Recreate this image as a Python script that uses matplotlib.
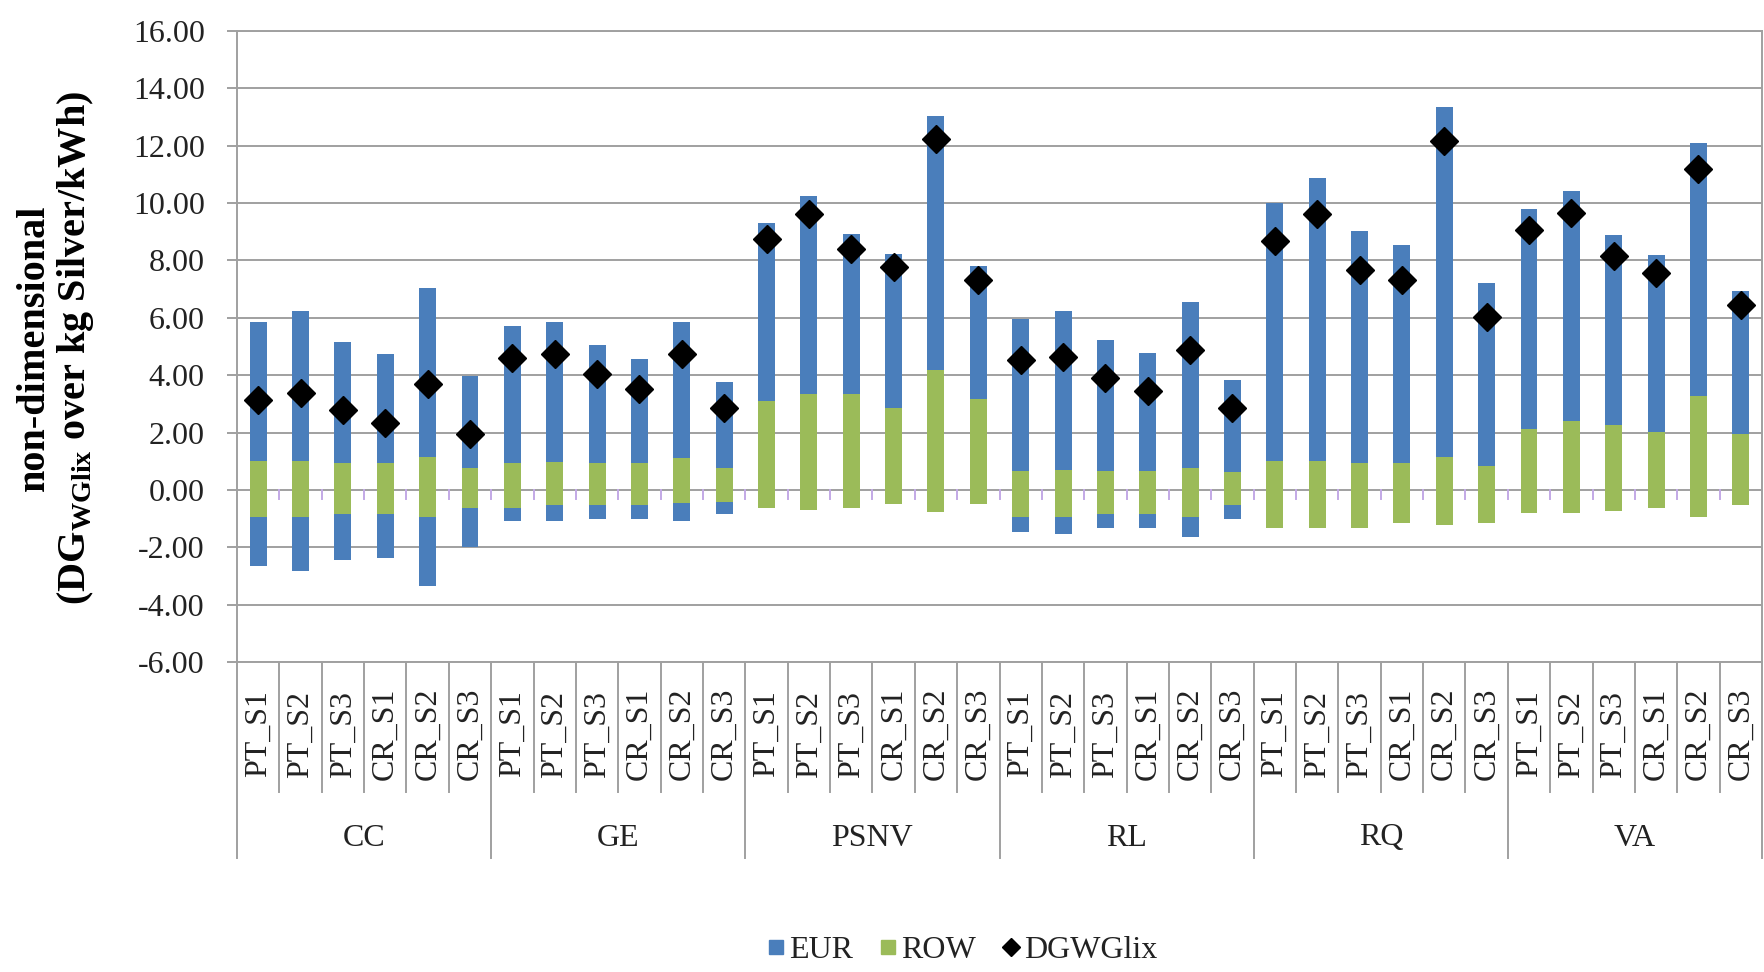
import matplotlib
matplotlib.use("Agg")
import matplotlib.pyplot as plt
from matplotlib.lines import Line2D
import numpy as np

plt.rcParams["font.family"] = ["Liberation Serif", "DejaVu Serif"]
plt.rcParams["mathtext.fontset"] = "custom"
plt.rcParams["mathtext.rm"] = "Liberation Serif"
plt.rcParams["mathtext.bf"] = "Liberation Serif:bold"

# ---- data -------------------------------------------------------------
sites = ["CC", "GE", "PSNV", "RL", "RQ", "VA"]
scenarios = ["PT_S1", "PT_S2", "PT_S3", "CR_S1", "CR_S2", "CR_S3"]

# ROW contribution above zero
row_pos = [1.01, 1.01, 0.93, 0.93, 1.13, 0.78,
           0.93, 0.96, 0.93, 0.93, 1.12, 0.78,
           3.10, 3.33, 3.33, 2.87, 4.19, 3.18,
           0.67, 0.70, 0.67, 0.67, 0.78, 0.62,
           1.01, 1.01, 0.93, 0.93, 1.16, 0.85,
           2.14, 2.40, 2.25, 2.02, 3.26, 1.94]
# EUR contribution above zero (stacked on ROW)
eur_pos = [4.85, 5.24, 4.23, 3.80, 5.92, 3.20,
           4.78, 4.90, 4.11, 3.64, 4.74, 2.97,
           6.20, 6.90, 5.58, 5.35, 8.86, 4.62,
           5.30, 5.55, 4.57, 4.11, 5.76, 3.22,
           8.99, 9.87, 8.11, 7.60, 12.20, 6.36,
           7.66, 8.02, 6.63, 6.17, 8.83, 5.01]
# ROW contribution below zero
row_neg = [-0.93, -0.96, -0.85, -0.85, -0.96, -0.62,
           -0.62, -0.54, -0.54, -0.54, -0.47, -0.43,
           -0.62, -0.70, -0.62, -0.50, -0.78, -0.50,
           -0.93, -0.96, -0.85, -0.85, -0.93, -0.54,
           -1.32, -1.32, -1.32, -1.16, -1.24, -1.16,
           -0.81, -0.81, -0.73, -0.62, -0.93, -0.54]
# EUR contribution below zero (stacked under ROW)
eur_neg = [-1.74, -1.88, -1.60, -1.51, -2.40, -1.36,
           -0.47, -0.55, -0.47, -0.47, -0.62, -0.42,
           0.0, 0.0, 0.0, 0.0, 0.0, 0.0,
           -0.54, -0.59, -0.47, -0.47, -0.70, -0.47,
           0.0, 0.0, 0.0, 0.0, 0.0, 0.0,
           0.0, 0.0, 0.0, 0.0, 0.0, 0.0]
# net indicator
dgwglix = [3.15, 3.38, 2.79, 2.33, 3.69, 1.94,
           4.60, 4.73, 4.03, 3.52, 4.73, 2.84,
           8.76, 9.61, 8.40, 7.78, 12.25, 7.33,
           4.53, 4.65, 3.91, 3.44, 4.88, 2.84,
           8.68, 9.61, 7.67, 7.32, 12.17, 6.02,
           9.07, 9.64, 8.14, 7.57, 11.19, 6.43]

yticks = [-6, -4, -2, 0, 2, 4, 6, 8, 10, 12, 14, 16]

# ---- styling ----------------------------------------------------------
C_EUR = "#4A7EBB"
C_ROW = "#9BBB59"
C_GRID = "#A0A0A0"
C_TXT = "#222222"
FS = 23

W, H = 1764, 972
fig = plt.figure(figsize=(W / 100, H / 100), dpi=100)
ax_l, ax_r, ax_t, ax_b = 237, 1762, 31, 662
ax = fig.add_axes([ax_l / W, 1 - ax_b / H, (ax_r - ax_l) / W, (ax_b - ax_t) / H])
ax_h = ax_b - ax_t

n = len(row_pos)
x = np.arange(n)
bw = 0.4

row_pos = np.array(row_pos)
eur_pos = np.array(eur_pos)
row_neg = np.array(row_neg)
eur_neg = np.array(eur_neg)

ax.bar(x, row_pos, bw, color=C_ROW, zorder=3)
ax.bar(x, eur_pos, bw, bottom=row_pos, color=C_EUR, zorder=3)
ax.bar(x, row_neg, bw, color=C_ROW, zorder=3)
ax.bar(x, eur_neg, bw, bottom=row_neg, color=C_EUR, zorder=3)
ax.plot(x, dgwglix, linestyle="none", marker="D", markersize=14.5,
        color="black", zorder=5)

ax.set_xlim(-0.5, n - 0.5)
ax.set_ylim(yticks[0], yticks[-1])
ax.set_yticks(yticks)
ax.set_yticklabels([f"{v:.2f}" for v in yticks], fontsize=FS, color=C_TXT)
ax.tick_params(axis="y", length=7.2, width=1.4, color=C_GRID, pad=16)
ax.yaxis.grid(True, color=C_GRID, linewidth=1.4, zorder=0)
ax.set_axisbelow(True)
ax.set_xticks([])
for s in ax.spines.values():
    s.set_color(C_GRID)
    s.set_linewidth(1.4)

# small category ticks on the zero line
trans = ax.get_xaxis_transform()
for b in np.arange(0.5, n - 0.5, 1.0):
    ax.plot([b, b], [0, -0.3], color="#C3A9E6", linewidth=1.4, zorder=2)

# category labels and separators below the axis
lab_y = -72 / ax_h
grp_y = -176 / ax_h
sep_y = -130 / ax_h
grp_sep_y = -196 / ax_h
for i in range(n):
    ax.text(i, lab_y, scenarios[i % len(scenarios)], transform=trans,
            rotation=90, ha="center", va="center", fontsize=FS, color=C_TXT)
for b in np.arange(-0.5, n, 1.0):
    is_group = abs(((b + 0.5) % len(scenarios))) < 1e-9
    ax.plot([b, b], [0, grp_sep_y if is_group else sep_y], transform=trans,
            color=C_GRID, linewidth=1.4, clip_on=False)
for g, name in enumerate(sites):
    cx = g * len(scenarios) + (len(scenarios) - 1) / 2
    ax.text(cx, grp_y, name, transform=trans, ha="center", va="center",
            fontsize=FS, color=C_TXT)

# y-axis title
fig.text(56 / W, 1 - 348 / H,
         "non-dimensional\n(DG$_{\\mathregular{WGlix}}$ over kg Silver/kWh)",
         rotation=90, ha="center", va="center", multialignment="center",
         fontsize=29, fontweight="bold", linespacing=1.1, color="black")

# legend
handles = [
    Line2D([], [], linestyle="none", marker="s", markersize=10.5,
           markerfacecolor=C_EUR, markeredgecolor=C_EUR),
    Line2D([], [], linestyle="none", marker="s", markersize=10.5,
           markerfacecolor=C_ROW, markeredgecolor=C_ROW),
    Line2D([], [], linestyle="none", marker="D", markersize=9,
           markerfacecolor="black", markeredgecolor="black"),
]
fig.legend(handles, ["EUR", "ROW", "DGWGlix"], loc="center",
           bbox_to_anchor=(962 / W, 1 - 950 / H), ncol=3, frameon=False,
           fontsize=FS, handlelength=0.6, handletextpad=0.1,
           columnspacing=0.8, labelcolor=C_TXT)

fig.savefig("out.png", dpi=100)
